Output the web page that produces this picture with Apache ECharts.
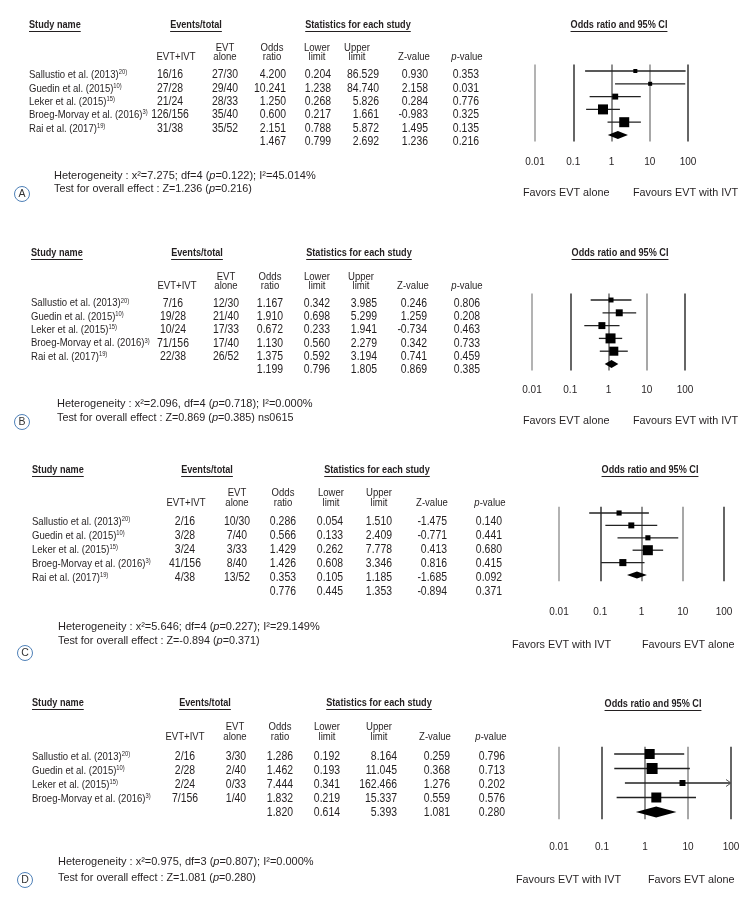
<!DOCTYPE html>
<html><head><meta charset="utf-8"><title>Forest plots</title>
<script src="https://cdn.jsdelivr.net/npm/echarts@6.0.0/dist/echarts.min.js"></script>
<style>html,body{margin:0;padding:0;background:#fff;}#chart{width:755px;height:897px;}</style>
</head><body><div id="chart"></div>
<script>
// ================= DATA =================
const studyNames = ['Sallustio et al. (2013)','Guedin et al. (2015)','Leker et al. (2015)','Broeg-Morvay et al. (2016)','Rai et al. (2017)'];
const studyRefs = ['20)','10)','15)','3)','19)'];
const tickLabels = ['0.01','0.1','1','10','100'];
const panelLetters = ['A','B','C','D'];
const favorsLeft = ['Favors EVT alone','Favors EVT alone','Favors EVT with IVT','Favours EVT with IVT'];
const favorsRight = ['Favours EVT with IVT','Favours EVT with IVT','Favours EVT alone','Favors EVT alone'];
const colHeadTop = ['', 'EVT', 'Odds', 'Lower', 'Upper', '', ''];
const colHeadBottom = ['EVT+IVT', 'alone', 'ratio', 'limit', 'limit', 'Z-value', '{i|p}-value'];

// Panel A
const aEvtIvt = ['16/16','27/28','21/24','126/156','31/38'];
const aEvtAlone = ['27/30','29/40','28/33','35/40','35/52'];
const aOR = [4.200, 10.241, 1.250, 0.600, 2.151];
const aLower = [0.204, 1.238, 0.268, 0.217, 0.788];
const aUpper = [86.529, 84.740, 5.826, 1.661, 5.872];
const aZ = [0.930, 2.158, 0.284, -0.983, 1.495];
const aP = [0.353, 0.031, 0.776, 0.325, 0.135];
const aPooled = [1.467, 0.799, 2.692, 1.236, 0.216]; // OR, lower, upper, Z, p
const aWeight = [6, 6, 13, 37, 37];

// Panel B
const bEvtIvt = ['7/16','19/28','10/24','71/156','22/38'];
const bEvtAlone = ['12/30','21/40','17/33','17/40','26/52'];
const bOR = [1.167, 1.910, 0.672, 1.130, 1.375];
const bLower = [0.342, 0.698, 0.233, 0.560, 0.592];
const bUpper = [3.985, 5.299, 1.941, 2.279, 3.194];
const bZ = [0.246, 1.259, -0.734, 0.342, 0.741];
const bP = [0.806, 0.208, 0.463, 0.733, 0.459];
const bPooled = [1.199, 0.796, 1.805, 0.869, 0.385];
const bWeight = [8, 16, 16, 33, 27];

// Panel C
const cEvtIvt = ['2/16','3/28','3/24','41/156','4/38'];
const cEvtAlone = ['10/30','7/40','3/33','8/40','13/52'];
const cOR = [0.286, 0.566, 1.429, 1.426, 0.353];
const cLower = [0.054, 0.133, 0.262, 0.608, 0.105];
const cUpper = [1.510, 2.409, 7.778, 3.346, 1.185];
const cZ = [-1.475, -0.771, 0.413, 0.816, -1.685];
const cP = [0.140, 0.441, 0.680, 0.415, 0.092];
const cPooled = [0.776, 0.445, 1.353, -0.894, 0.371];
const cWeight = [11, 15, 11, 42, 21];

// Panel D
const dEvtIvt = ['2/16','2/28','2/24','7/156'];
const dEvtAlone = ['3/30','2/40','0/33','1/40'];
const dOR = [1.286, 1.462, 7.444, 1.832];
const dLower = [0.192, 0.193, 0.341, 0.219];
const dUpper = [8.164, 11.045, 162.466, 15.337];
const dZ = [0.259, 0.368, 1.276, 0.559];
const dP = [0.796, 0.713, 0.202, 0.576];
const dPooled = [1.820, 0.614, 5.393, 1.081, 0.280];
const dWeight = [28, 34, 10, 28];

// Heterogeneity statistics per panel
const hetChi2 = [7.275, 2.096, 5.646, 0.975];
const hetDf = [4, 4, 4, 3];
const hetP = [0.122, 0.718, 0.227, 0.807];
const hetI2 = [45.014, 0.000, 29.149, 0.000];
const hetSep = [';', ',', ';', ','];
const testSuffix = ['', ' ns0615', '', ''];

// ================= ASSEMBLY =================
const panels = [
  {evtIvt:aEvtIvt, evtAlone:aEvtAlone, or:aOR, lower:aLower, upper:aUpper, z:aZ, p:aP, pooled:aPooled, weight:aWeight},
  {evtIvt:bEvtIvt, evtAlone:bEvtAlone, or:bOR, lower:bLower, upper:bUpper, z:bZ, p:bP, pooled:bPooled, weight:bWeight},
  {evtIvt:cEvtIvt, evtAlone:cEvtAlone, or:cOR, lower:cLower, upper:cUpper, z:cZ, p:cP, pooled:cPooled, weight:cWeight},
  {evtIvt:dEvtIvt, evtAlone:dEvtAlone, or:dOR, lower:dLower, upper:dUpper, z:dZ, p:dP, pooled:dPooled, weight:dWeight}
];

// Layout (pixel positions)
const L = [
  {headY:25, nameX:29, evX:196, stX:358, colY1:48, colY2:57,
   hdr:[176,225,272,317,357,414,467], rowY:75, rowStep:13.35,
   colIvt:170, colAlone:225, right:[286,331,379,428,479],
   hetX:54, hetY:176, testY:189, circle:[22,194],
   grid:{left:535, width:153, top:64.6, height:76.8}, margin:16,
   titleX:619, titleY:25, favL:[523,193], favR:[633,193], maxSize:10, dh:4},
  {headY:253, nameX:31, evX:197, stX:359, colY1:277, colY2:286,
   hdr:[177,226,270,317,361,413,467], rowY:303.3, rowStep:13.33,
   colIvt:173, colAlone:226, right:[283,330,377,427,480],
   hetX:57, hetY:404, testY:418, circle:[22,422],
   grid:{left:532, width:153, top:293.6, height:76.8}, margin:15,
   titleX:620, titleY:253, favL:[523,421], favR:[633,421], maxSize:10, dh:4},
  {headY:470, nameX:32, evX:207, stX:377, colY1:493, colY2:503,
   hdr:[186,237,283,331,379,432,490], rowY:521.7, rowStep:14.06,
   colIvt:185, colAlone:237, right:[296,343,392,447,502],
   hetX:58, hetY:627, testY:641, circle:[25,653],
   grid:{left:559, width:165, top:506.8, height:74.4}, margin:26,
   titleX:650, titleY:470, favL:[512,645], favR:[642,645], maxSize:10, dh:3.5},
  {headY:703, nameX:32, evX:205, stX:379, colY1:727, colY2:737,
   hdr:[185,235,280,327,379,435,491], rowY:756.7, rowStep:13.9,
   colIvt:185, colAlone:236, right:[293,340,397,450,505],
   hetX:58, hetY:862, testY:878, circle:[25,880],
   grid:{left:559, width:172, top:746.75, height:72.5}, margin:23,
   titleX:653, titleY:704, favL:[516,880], favR:[648,880], maxSize:11, dh:5.5}
];

const FR = "'Liberation Sans',Arial,sans-serif";
const INK = '#231f20';
const NARROW = 0.83;
const mctx = document.createElement('canvas').getContext('2d');
function textW(t, size, family, weight) { mctx.font = (weight || 'normal') + ' ' + size + 'px ' + family; return mctx.measureText(t).width; }

const els = [];
function addText(x, y, text, o) {
  o = o || {};
  const st = {text: text, fontSize: o.size || 11.5, fontFamily: FR, fontWeight: o.weight || 'normal',
    fill: o.color || INK, textAlign: o.align || 'left', textVerticalAlign: 'middle', align: o.align || 'left', verticalAlign: 'middle'};
  if (o.rich) st.rich = o.rich;
  els.push({type: 'text', x: x, y: y, scaleX: o.sx || 1, scaleY: 1, silent: true, style: st});
}
function addUnderlined(x, y, text, size, align) {
  addText(x, y, text, {size: size, weight: 'bold', align: align, sx: NARROW});
  const w = textW(text, size, FR, 'bold') * NARROW;
  const x0 = align === 'center' ? x - w / 2 : x;
  const yy = Math.round(y + 6) + 0.5;
  els.push({type: 'line', silent: true, shape: {x1: x0, y1: yy, x2: x0 + w, y2: yy}, style: {stroke: INK, lineWidth: 1}});
}
const richSup = {s: {fontSize: 7, fontFamily: FR, fill: INK, verticalAlign: 'top', lineHeight: 8}};
const richItalicN = {i: {fontStyle: 'italic', fontSize: 11.5, fontFamily: FR, fill: INK}};
const richItalicR = {i: {fontStyle: 'italic', fontSize: 11, fontFamily: FR, fill: INK}};

const grids = [], xAxes = [], yAxes = [], series = [];

panels.forEach(function (P, i) {
  const Y = L[i];
  const n = P.or.length;
  addUnderlined(Y.nameX, Y.headY, 'Study name', 11, 'left');
  addUnderlined(Y.evX, Y.headY, 'Events/total', 11, 'center');
  addUnderlined(Y.stX, Y.headY, 'Statistics for each study', 11, 'center');
  addUnderlined(Y.titleX, Y.titleY, 'Odds ratio and 95% CI', 11, 'center');
  colHeadBottom.forEach(function (t, j) {
    if (colHeadTop[j]) addText(Y.hdr[j], Y.colY1, colHeadTop[j], {align: 'center', sx: NARROW});
    addText(Y.hdr[j], Y.colY2, t, {align: 'center', rich: richItalicN, sx: NARROW});
  });
  for (let r = 0; r < n; r++) {
    const y = Y.rowY + r * Y.rowStep;
    addText(Y.nameX, y, studyNames[r] + '{s|' + studyRefs[r] + '}', {rich: richSup, sx: NARROW});
    addText(Y.colIvt, y, P.evtIvt[r], {align: 'center', size: 12, sx: 0.87});
    addText(Y.colAlone, y, P.evtAlone[r], {align: 'center', size: 12, sx: 0.87});
    [P.or[r], P.lower[r], P.upper[r], P.z[r], P.p[r]].forEach(function (v, k) {
      addText(Y.right[k], y, v.toFixed(3), {align: 'right', size: 12, sx: 0.87});
    });
  }
  const yPool = Y.rowY + n * Y.rowStep;
  P.pooled.forEach(function (v, k) { addText(Y.right[k], yPool, v.toFixed(3), {align: 'right', size: 12, sx: 0.87}); });

  addText(Y.hetX, Y.hetY, 'Heterogeneity : x\u00B2=' + hetChi2[i].toFixed(3) + hetSep[i] + ' df=' + hetDf[i] +
    ' ({i|p}=' + hetP[i].toFixed(3) + '); I\u00B2=' + hetI2[i].toFixed(3) + '%', {size: 11, rich: richItalicR});
  addText(Y.hetX, Y.testY, 'Test for overall effect : Z=' + P.pooled[3].toFixed(3) + ' ({i|p}=' + P.pooled[4].toFixed(3) + ')' + testSuffix[i],
    {size: 10.8, rich: richItalicR});
  els.push({type: 'circle', silent: true, shape: {cx: Y.circle[0], cy: Y.circle[1], r: 7.5}, style: {fill: '#fff', stroke: '#4f81b8', lineWidth: 1}});
  addText(Y.circle[0], Y.circle[1] + 0.5, panelLetters[i], {size: 10.5, align: 'center', color: '#333'});
  addText(Y.favL[0], Y.favL[1], favorsLeft[i], {size: 10.8});
  addText(Y.favR[0], Y.favR[1], favorsRight[i], {size: 10.8});

  grids.push({left: Y.grid.left, top: Y.grid.top, width: Y.grid.width, height: Y.grid.height, containLabel: false});
  xAxes.push({
    type: 'log', logBase: 10, min: 0.01, max: 100, gridIndex: i,
    axisLine: {show: false}, axisTick: {show: false},
    axisLabel: {margin: Y.margin, fontSize: 10, fontFamily: FR, color: INK,
      formatter: function (v) { return tickLabels[Math.round(Math.log10(v)) + 2]; }},
    splitLine: {show: true, lineStyle: {color: ['#9a9a9a', '#333333', '#6a6a6a', '#8a8a8a', '#333333'], width: 1.5}}
  });
  yAxes.push({type: 'value', gridIndex: i, inverse: true, min: -0.5, max: n + 0.5, show: false, splitLine: {show: false}});

  const data = P.or.map(function (o, k) { return [o, k, P.lower[k], P.upper[k], 0, P.weight[k]]; });
  data.push([P.pooled[0], n, P.pooled[1], P.pooled[2], 1, 0]);
  const wMax = Math.max.apply(null, P.weight);
  series.push({
    type: 'custom', xAxisIndex: i, yAxisIndex: i, data: data, silent: true, animation: false,
    renderItem: function (params, api) {
      const or = api.value(0), row = api.value(1), lo = api.value(2), hi = api.value(3), kind = api.value(4), w = api.value(5);
      const c = api.coord([or, row]);
      const a = api.coord([Math.max(lo, 0.01), row]);
      const b = api.coord([Math.min(hi, 100), row]);
      const cy = c[1];
      if (kind === 1) {
        return {type: 'polygon', shape: {points: [[a[0], cy], [c[0], cy - Y.dh], [b[0], cy], [c[0], cy + Y.dh]]}, style: {fill: '#000'}};
      }
      const s = Y.maxSize * Math.sqrt(w / wMax);
      const children = [
        {type: 'line', shape: {x1: a[0], y1: cy, x2: b[0], y2: cy}, style: {stroke: '#222', lineWidth: 1.3}},
        {type: 'rect', shape: {x: c[0] - s / 2, y: cy - s / 2, width: s, height: s}, style: {fill: '#000'}}
      ];
      if (hi > 100) {
        children.push({type: 'polyline', shape: {points: [[b[0] - 5, cy - 3.5], [b[0], cy], [b[0] - 5, cy + 3.5]]}, style: {stroke: '#555', fill: null, lineWidth: 1}});
      }
      return {type: 'group', children: children};
    }
  });
});

const chart = echarts.init(document.getElementById('chart'), null, {renderer: 'canvas'});
chart.setOption({
  animation: false,
  backgroundColor: '#fff',
  grid: grids, xAxis: xAxes, yAxis: yAxes, series: series,
  graphic: {elements: els}
});
</script></body></html>
